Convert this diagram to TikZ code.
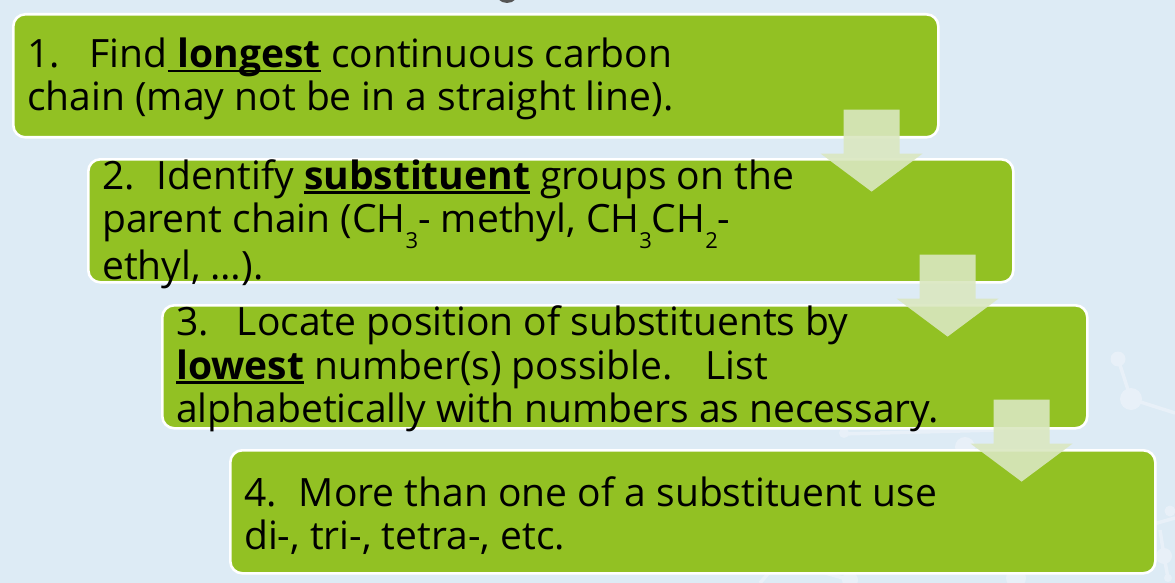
\documentclass[tikz,border=0pt]{standalone}
\usepackage{fontspec}
\setmainfont{Open Sans}
\usetikzlibrary{calc}
\definecolor{bgblue}{RGB}{221,235,245}
\definecolor{boxgreen}{RGB}{146,193,35}
\definecolor{arrowfill}{RGB}{218,231,192}
\definecolor{molcol}{RGB}{232,240,248}
\definecolor{topgray}{RGB}{85,85,85}
\newsavebox{\ulsavebox}
\newcommand{\ulword}[1]{\sbox{\ulsavebox}{#1}\rlap{\rule[-5pt]{\wd\ulsavebox}{2.6pt}}\usebox{\ulsavebox}}
\newcommand{\chemsub}[1]{\raisebox{-0.4em}{\fontsize{22}{22}\selectfont #1}}
\begin{document}
\begin{tikzpicture}[x=1pt,y=-1pt,
  stepbox/.style={draw=white, line width=2.6pt, fill=boxgreen, rounded corners=12pt,
    minimum width=925pt, minimum height=123pt, anchor=north west, inner sep=0pt},
  steptext/.style={anchor=west, align=left, font=\fontsize{39}{43.5}\selectfont,
    inner sep=0pt, text=black},
  flowarrow/.style={fill=arrowfill, fill opacity=0.9, draw=none},
  mol/.style={fill=molcol, draw=none},
  molline/.style={draw=molcol, line width=3.5pt},
  downarrow/.pic={\path[flowarrow] (-28,0) -- (28,0) -- (28,44) -- (51,44) -- (0,82)
     -- (-51,44) -- (-28,44) -- cycle;}]
\fill[bgblue] (0,0) rectangle (1175,583);
\useasboundingbox (0,0) rectangle (1175,583);
% faint molecule decoration
\draw[molline] (1118,359) -- (1131,399) -- (1175,413);
\fill[mol] (1118,359) circle (7.5);
\fill[mol] (1131,399) circle (11);
\draw[molline] (1150,525) -- (1175,518);
\draw[molline] (1160,530) -- (1164,556) -- (1168,578);
\fill[mol] (1170,511) circle (5.5);
\fill[mol] (1164,556) circle (8);
\fill[mol] (1168,578) circle (4);
\draw[molline] (840,434) -- (1000,430);
\fill[mol] (965,447) circle (10);
\fill[mol] (844,433) circle (5);
\fill[mol] (1016,578) circle (10);
\fill[mol] (850,580) circle (8);
\draw[molline] (760,583) -- (780,560) -- (850,580);
% partial gray shape at the top
\fill[topgray] (507,-9) circle (12);
% step boxes
\node[stepbox] (b1) at (12,13) {};
\node[stepbox] (b2) at (87,158) {};
\node[stepbox] (b3) at (161,304) {};
\node[stepbox] (b4) at (229,449) {};
% texts
\node[steptext] (t1) at ($(b1.west)+(15,3)$)
  {1.\hspace{30pt}Find\ulword{\ \textbf{longest}} continuous carbon\\
   chain (may not be in a straight line).};
\node[steptext] (t2) at ($(b2.west)+(15,3)$)
  {2.\hspace{22pt}Identify \ulword{\textbf{substituent}} groups on the\\
   parent chain (CH\chemsub{3}- methyl, CH\chemsub{3}CH\chemsub{2}-\\
   ethyl, …).};
\node[steptext] (t3) at ($(b3.west)+(15,2)$)
  {3.\hspace{28pt}Locate position of substituents by\\
   \ulword{\textbf{lowest}} number(s) possible.\hspace{33pt}List\\
   alphabetically with numbers as necessary.};
\node[steptext] (t4) at ($(b4.west)+(15,4)$)
  {4.\hspace{22pt}More than one of a substituent use\\
   di-, tri-, tetra-, etc.};
% flow arrows between the boxes
\coordinate (a1) at ($(b1.south east)+(-68,-29)$);
\coordinate (a2) at ($(b2.south east)+(-67,-29)$);
\coordinate (a3) at ($(b3.south east)+(-67,-30)$);
\pic at (a1) {downarrow};
\pic at (a2) {downarrow};
\pic at (a3) {downarrow};
\end{tikzpicture}
\end{document}
